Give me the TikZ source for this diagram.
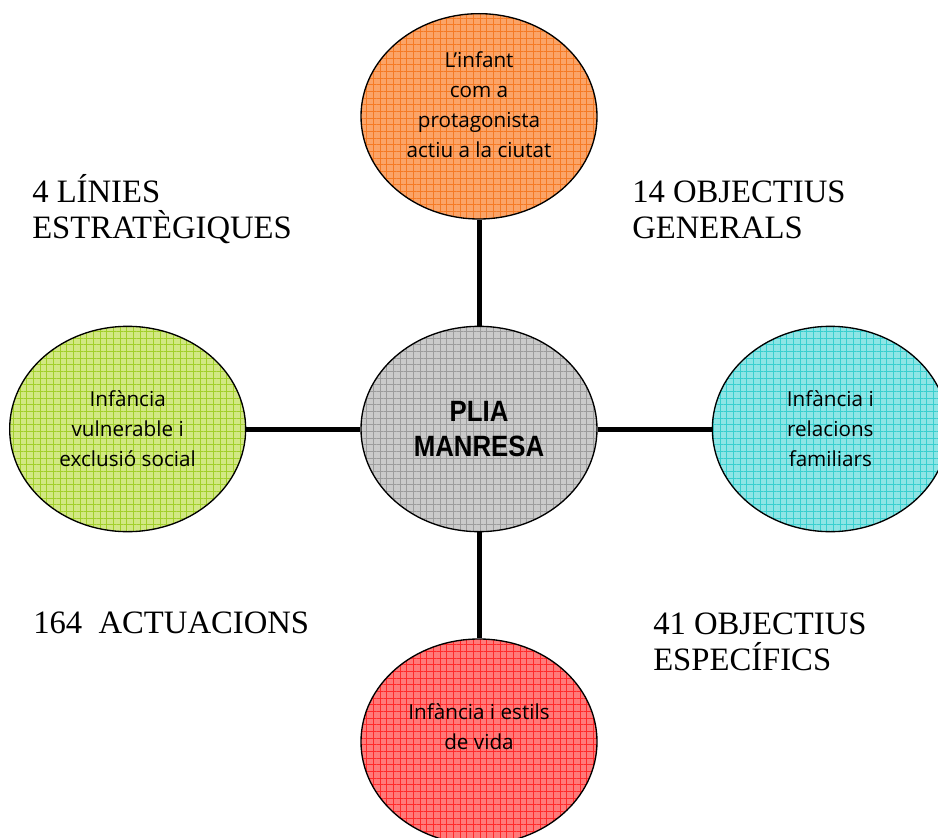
\documentclass[tikz,border=0pt]{standalone}
\usepackage{fontspec}
\setmainfont{Liberation Serif}
\newfontfamily\handfont{Open Sans}
\newfontfamily\pliafont[FakeStretch=0.88]{Liberation Sans}
\usepackage{tikz}
\usetikzlibrary{positioning,shapes.geometric,patterns.meta}

\definecolor{orangefill}{HTML}{FBA468}
\definecolor{orangegrid}{HTML}{F57A24}
\definecolor{grayfill}{HTML}{CACACA}
\definecolor{graygrid}{HTML}{9C9C9C}
\definecolor{greenfill}{HTML}{D2E884}
\definecolor{greengrid}{HTML}{A2CF2A}
\definecolor{cyanfill}{HTML}{8EE5E5}
\definecolor{cyangrid}{HTML}{38CFCF}
\definecolor{redfill}{HTML}{FF7A7A}
\definecolor{redgrid}{HTML}{FF2A2A}

\tikzset{
  blob/.style 2 args={ellipse, line width=1pt, minimum width=177pt, minimum height=154pt,
    align=center, font=\handfont\fontsize{15.5}{22.5}\selectfont,
    preaction={fill=#1},
    preaction={pattern={Lines[distance=5pt,angle=0,line width=.6pt]}, pattern color=#2},
    preaction={pattern={Lines[distance=5pt,angle=90,line width=.6pt]}, pattern color=#2},
    draw},
  spoke/.style={line width=3.75pt},
  count/.style={anchor=base west, align=left, inner sep=0pt, font=\fontsize{24.5}{27}\selectfont}
}

\begin{document}
\begin{tikzpicture}[x=0.75pt, y=-0.75pt]
  \useasboundingbox (0,0) rectangle (938,838);
  \node[blob={grayfill}{graygrid}, font=\pliafont\bfseries\fontsize{22}{26}\selectfont] (hub) at (479,429) {PLIA\\MANRESA};
  \node[blob={orangefill}{orangegrid}, above=79.5pt of hub, text depth=18pt] (child) {L’infant\\com a\\protagonista\\actiu a la ciutat};
  \node[blob={greenfill}{greengrid}, left=85.5pt of hub] (vuln) {Infància\\vulnerable i\\exclusió social};
  \node[blob={cyanfill}{cyangrid}, right=85.5pt of hub] (family) {Infància i\\relacions\\familiars};
  \node[blob={redfill}{redgrid}, below=79.5pt of hub, text depth=22pt] (life) {Infància i estils\\de vida};
  \path[spoke]
  (hub) edge (child)
  edge (vuln)
  edge (family)
  edge (life)
;
  \node[count] (lines) at (32,238) {4 LÍNIES\\ESTRATÈGIQUES};
  \node[count] (general) at (632,238) {14 OBJECTIUS\\GENERALS};
  \node[count] (actions) at (33,633) {164\ \ ACTUACIONS};
  \node[count] (specific) at (653,670) {41 OBJECTIUS\\ESPECÍFICS};
\end{tikzpicture}
\end{document}
